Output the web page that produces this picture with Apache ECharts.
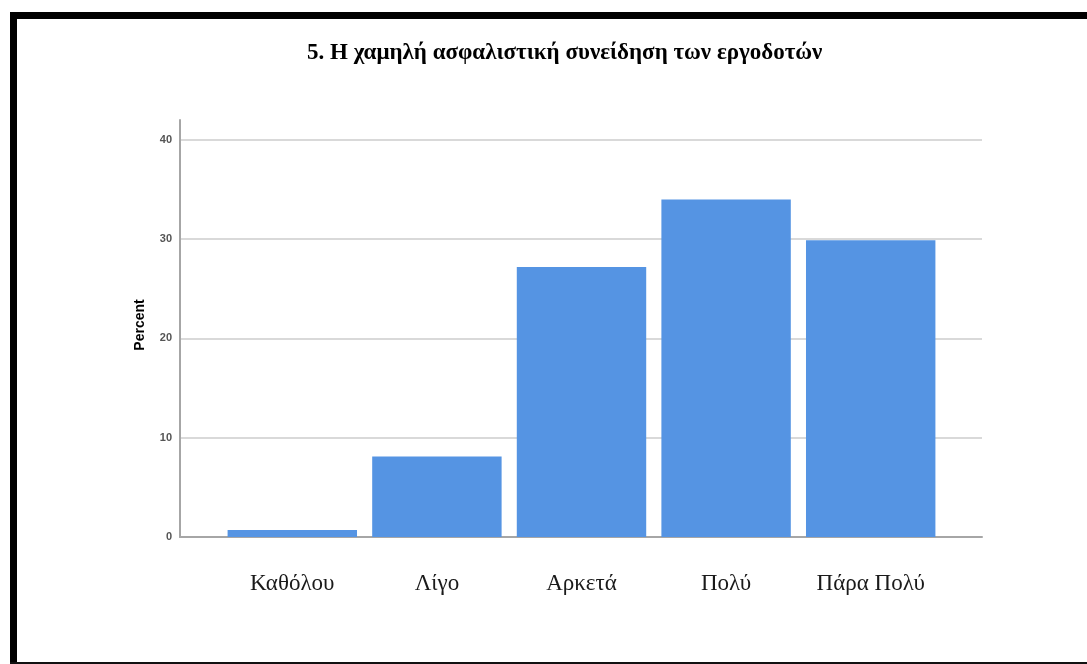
<!DOCTYPE html>
<html>
<head>
<meta charset="utf-8">
<script src="https://cdn.jsdelivr.net/npm/echarts@6/dist/echarts.min.js"></script>
<style>
  html, body { margin: 0; padding: 0; background: #fff; }
  #chart { width: 1087px; height: 664px; }
</style>
</head>
<body>
<div id="chart"></div>
<script>
// κατηγορίες και ποσοστά
var categories = ['Καθόλου', 'Λίγο', 'Αρκετά', 'Πολύ', 'Πάρα Πολύ'];
var percents = [0.7, 8.1, 27.2, 34.0, 29.9];
var yTicks = [0, 10, 20, 30, 40];

var chart = echarts.init(document.getElementById('chart'));

var option = {
    backgroundColor: '#fff',
    animation: false,
    title: {
        text: '5. Η χαμηλή ασφαλιστική συνείδηση των εργοδοτών',
        left: 302,
        top: 37,
        textStyle: {
            fontFamily: 'Liberation Serif',
            fontWeight: 'bold',
            fontSize: 23,
            color: '#000'
        }
    },
    //grid 0: άξονας y και γραμμές πλέγματος, grid 1: ράβδοι
    grid: [
        { left: 180, right: 105, top: 120, bottom: 127 },
        { left: 220, right: 144, top: 120, bottom: 127 }
    ],
    xAxis: [
        {
            gridIndex: 0,
            type: 'value',
            min: 0,
            max: 1,
            axisLine: { show: true, lineStyle: { color: '#a6a6a6', width: 2 } },
            axisTick: { show: false },
            axisLabel: { show: false },
            splitLine: { show: false }
        },
        {
            gridIndex: 1,
            type: 'category',
            data: categories,
            axisLine: { show: false },
            axisTick: { show: false },
            axisLabel: {
                margin: 35,
                fontFamily: 'Liberation Serif',
                fontSize: 23,
                color: '#1a1a1a'
            }
        }
    ],
    yAxis: [
        {
            gridIndex: 0,
            type: 'value',
            min: 0,
            max: 42,
            interval: 10,
            axisLine: { show: true, lineStyle: { color: '#a6a6a6', width: 2 } },
            axisTick: { show: false },
            axisLabel: {
                showMaxLabel: false,
                margin: 8,
                fontFamily: 'Liberation Sans',
                fontSize: 11,
                fontWeight: 'bold',
                color: '#555',
                formatter: function (v) {
                    return yTicks.indexOf(v) >= 0 ? String(v) : '';
                }
            },
            splitLine: {
                show: true,
                lineStyle: {
                    color: ['#d9d9d9', '#d9d9d9', '#d9d9d9', '#d9d9d9', '#d9d9d9', 'rgba(0,0,0,0)'],
                    width: 2
                }
            }
        },
        {
            gridIndex: 1,
            type: 'value',
            min: 0,
            max: 42,
            show: false
        }
    ],
    series: [
        {
            type: 'bar',
            xAxisIndex: 1,
            yAxisIndex: 1,
            data: percents,
            barCategoryGap: '10.5%',
            itemStyle: { color: '#5594e3' }
        }
    ],
    graphic: [
        //πλαίσιο
        { type: 'rect', shape: { x: 10, y: 12, width: 1077, height: 7 }, style: { fill: '#000' } },
        { type: 'rect', shape: { x: 10, y: 12, width: 7, height: 652 }, style: { fill: '#000' } },
        { type: 'rect', shape: { x: 10, y: 662, width: 1077, height: 2 }, style: { fill: '#111' } },
        {
            type: 'text',
            x: 140,
            y: 325,
            rotation: Math.PI / 2,
            style: {
                text: 'Percent',
                fontFamily: 'Liberation Sans',
                fontWeight: 'bold',
                fontSize: 14,
                fill: '#000',
                align: 'center',
                verticalAlign: 'middle'
            }
        }
    ]
};

chart.setOption(option);
</script>
</body>
</html>
